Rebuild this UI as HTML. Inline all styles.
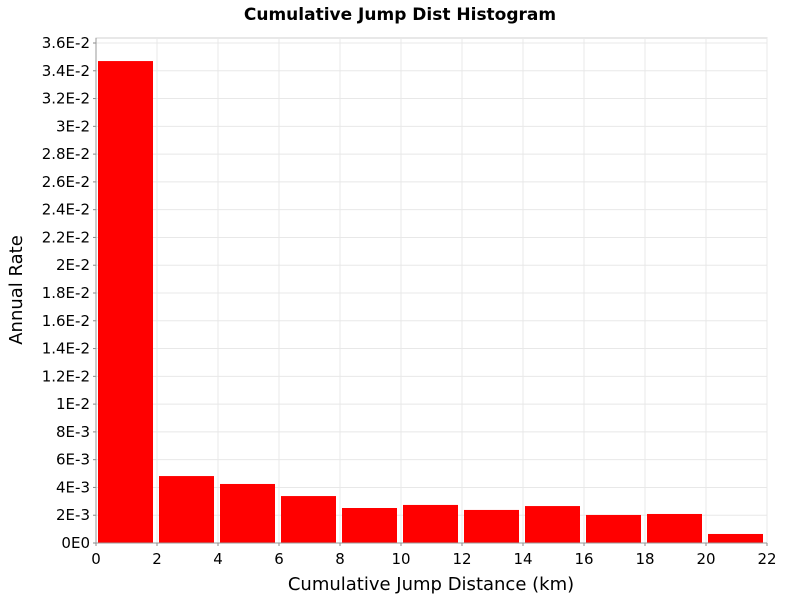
<!DOCTYPE html>
<html><head><meta charset="utf-8"><style>
body{margin:0;background:#fff;width:800px;height:600px;overflow:hidden;font-family:"DejaVu Sans","Liberation Sans",sans-serif}
</style></head><body>
<svg width="800" height="600" xmlns="http://www.w3.org/2000/svg">
<text x="400" y="20" text-anchor="middle" font-weight="bold" font-size="17" font-family="DejaVu Sans, Liberation Sans, sans-serif">Cumulative Jump Dist Histogram</text>
<g id="grid"></g><g id="bars"></g><g id="axes"></g>
<text x="431" y="590" text-anchor="middle" font-size="18" font-family="DejaVu Sans, Liberation Sans, sans-serif">Cumulative Jump Distance (km)</text>
<text transform="translate(22,290) rotate(-90)" text-anchor="middle" font-size="18" font-family="DejaVu Sans, Liberation Sans, sans-serif">Annual Rate</text>
</svg>
<script>
const binStarts=[0,2,4,6,8,10,12,14,16,18,20];
const rates=[0.0347,0.00482,0.00425,0.00338,0.00252,0.00274,0.00238,0.00266,0.00202,0.00209,0.00065];
const xTicks=[0,2,4,6,8,10,12,14,16,18,20,22];
const yTicks=[0,0.002,0.004,0.006,0.008,0.01,0.012,0.014,0.016,0.018,0.02,0.022,0.024,0.026,0.028,0.03,0.032,0.034,0.036];
const yLabels=["0E0","2E-3","4E-3","6E-3","8E-3","1E-2","1.2E-2","1.4E-2","1.6E-2","1.8E-2","2E-2","2.2E-2","2.4E-2","2.6E-2","2.8E-2","3E-2","3.2E-2","3.4E-2","3.6E-2"];
const L=96,R=767,T=38,B=543;
const X=v=>L+(v/22)*(R-L);
const Y=v=>B-(v/0.036)*(B-43);
const NS="http://www.w3.org/2000/svg";
function mk(t,a,p){const e=document.createElementNS(NS,t);for(const k in a)e.setAttribute(k,a[k]);p.appendChild(e);return e;}
const grid=document.getElementById('grid'),bars=document.getElementById('bars'),axes=document.getElementById('axes');
mk('rect',{x:L,y:T,width:R-L,height:B-T,fill:'#fff',stroke:'#d0d0d0'},grid);
yTicks.forEach((v,i)=>{
 const g=mk('line',{x1:L,x2:R,y1:Y(v),y2:Y(v),stroke:'#e8e8e8'},grid);
 
 
 const t=mk('text',{x:L-6,y:Y(v)+5,'text-anchor':'end','font-size':'15'},axes);
 t.textContent=yLabels[i];
 
 
 mk('line',{x1:L-3,x2:L,y1:Y(v),y2:Y(v),stroke:'#888'},axes);
});
xTicks.forEach(v=>{
 const g=mk('line',{x1:X(v),x2:X(v),y1:T,y2:B,stroke:'#e8e8e8'},grid);
 
 
 const t=mk('text',{x:X(v),y:B+21,'text-anchor':'middle','font-size':'15'},axes);
 t.textContent=v;
 
 
 mk('line',{x1:X(v),x2:X(v),y1:B,y2:B+3,stroke:'#888'},axes);
});
binStarts.forEach((s,i)=>{
 const x0=X(s)+2,x1=X(s+2)-4;
 const r=mk('rect',{x:x0,y:Y(rates[i]),width:x1-x0,height:B-Y(rates[i]),fill:'#ff0000'},bars);
 
 
});
mk('line',{x1:L,x2:L,y1:T,y2:B,stroke:'#999'},axes);
mk('line',{x1:L,x2:R,y1:B,y2:B,stroke:'#999'},axes);
</script>
</body></html>
